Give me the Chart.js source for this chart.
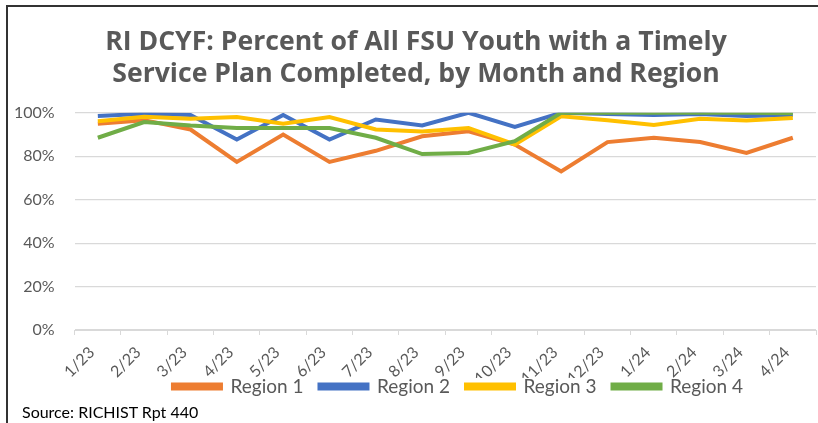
<!DOCTYPE html>
<html>
<head>
<meta charset="utf-8">
<script src="https://cdn.jsdelivr.net/npm/chart.js@4.4.1/dist/chart.umd.min.js"></script>
<style>
  body { margin: 0; background: #fff; }
  #wrap { position: relative; width: 818px; height: 423px; }
  #frame { position: absolute; left: 6px; top: 5px; right: -4px; bottom: -4px; border-left: 2px solid #333; border-top: 2px solid #333; pointer-events: none; }
  #src { position: absolute; left: 22px; top: 402px; font: 16px Lato, "Liberation Sans", sans-serif; color: #000; }
</style>
</head>
<body>
<div id="wrap">
  <canvas id="grafico" width="818" height="423"></canvas>
  <div id="frame"></div>
  <div id="src">Source: RICHIST Rpt 440</div>
</div>
<script>
var mesi = ['1/23', '2/23', '3/23', '4/23', '5/23', '6/23', '7/23', '8/23', '9/23', '10/23', '11/23', '12/23', '1/24', '2/24', '3/24', '4/24'];

var regione1 = [95, 96.6, 92.3, 77.4, 90, 77.4, 82.5, 89.2, 91.5, 85.4, 73, 86.5, 88.5, 86.5, 81.5, 88.5];
var regione2 = [98.5, 99.5, 99, 87.7, 99, 87.7, 96.9, 94.2, 100, 93.5, 100, 99.4, 99, 99.4, 98.5, 99];
var regione3 = [96.1, 98.2, 97.3, 98, 95, 98, 92.3, 91.4, 93, 85.4, 98.4, 96.6, 94.4, 97.2, 96.4, 97.6];
var regione4 = [88.5, 95.7, 94.1, 93, 93, 93, 88.5, 81, 81.5, 86.9, 100, 100, 100, 100, 100, 99.8];

var nomi = ['Region 1', 'Region 2', 'Region 3', 'Region 4'];
var colori = ['#ED7D31', '#4472C4', '#FFC000', '#70AD47'];

var serie = [regione1, regione2, regione3, regione4];
var datasets = [];
for (var i = 0; i < serie.length; i++) {
    datasets.push({
        label: nomi[i],
        data: serie[i],
        borderColor: colori[i],
        backgroundColor: colori[i],
        borderWidth: 4,
        pointRadius: 0,
        tension: 0,
        order: serie.length - 1 - i   // Region 4 drawn on top, like Excel
    });
}

// titolo e legenda: spostati come nel grafico Excel (legenda sopra le etichette)
var sposta = {
    id: 'sposta',
    afterLayout: function (chart) {
        var t = chart.titleBlock;
        t.left += 11;
        t.right += 11;
        var l = chart.legend;
        var h = l.bottom - l.top;
        l.left += 53;
        l.right += 53;
        l.top = 361;
        l.bottom = l.top + h;
    }
};

var grigio = '#595959';
var ctx = document.getElementById('grafico');
var chart = new Chart(ctx, {
    type: 'line',
    data: { labels: mesi, datasets: datasets },
    plugins: [sposta],
    options: {
        responsive: false,
        animation: false,
        layout: { autoPadding: false, padding: { left: -6, right: 2, top: 16, bottom: 0 } },
        plugins: {
            title: {
                display: true,
                text: ['RI DCYF: Percent of All FSU Youth with a Timely', 'Service Plan Completed, by Month and Region'],
                color: grigio,
                font: { family: 'Open Sans', size: 26.6, weight: 'bold', lineHeight: 1.18 },
                padding: { top: 11, bottom: 23 }
            },
            legend: {
                position: 'bottom',
                labels: {
                    boxWidth: 48,
                    boxHeight: 4,
                    color: grigio,
                    font: { family: 'Lato', size: 19 },
                    padding: 16,
                    sort: function (a, b) { return a.datasetIndex - b.datasetIndex; }
                }
            },
            tooltip: { enabled: false }
        },
        scales: {
            x: {
                offset: true,
                grid: { display: true, drawOnChartArea: false, drawTicks: true, tickLength: 5, offset: true, color: '#d9d9d9' },
                border: { color: '#d9d9d9', width: 1 },
                ticks: { color: grigio, padding: 8, labelOffset: -6, font: { family: 'Lato', size: 16 }, minRotation: 45, maxRotation: 45, autoSkip: false },
                afterFit: function (scale) { scale.height = 48; }
            },
            y: {
                min: 0,
                max: 100,
                border: { display: false },
                grid: { color: '#d9d9d9', lineWidth: 1.2, drawTicks: false },
                ticks: { stepSize: 20, padding: 20, color: grigio, font: { family: 'Lato', size: 16 },
                    callback: function (v) { return v + '%'; } }
            }
        }
    }
});
</script>
</body>
</html>
